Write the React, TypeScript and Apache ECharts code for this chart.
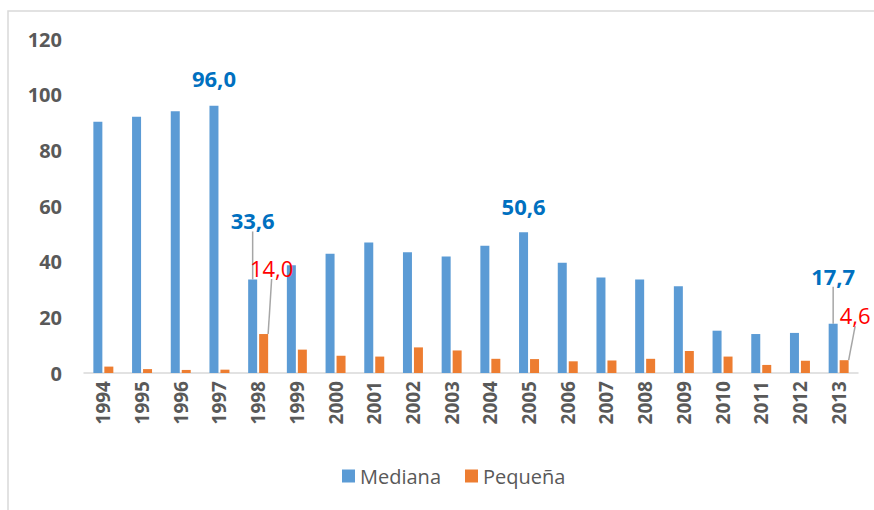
import React, { useEffect, useRef } from "react";
import * as echarts from "echarts";

const years = ["1994","1995","1996","1997","1998","1999","2000","2001","2002","2003","2004","2005","2006","2007","2008","2009","2010","2011","2012","2013"];
const mediana = [90.3, 92.1, 94.0, 96.0, 33.6, 38.7, 42.8, 46.9, 43.4, 41.9, 45.7, 50.6, 39.6, 34.3, 33.6, 31.2, 15.2, 14.0, 14.4, 17.7];
const pequena = [2.3, 1.4, 1.1, 1.2, 14.0, 8.4, 6.2, 5.9, 9.2, 8.1, 5.1, 5.0, 4.2, 4.5, 5.1, 7.9, 5.9, 2.9, 4.4, 4.6];
const yTicks = [0, 20, 40, 60, 80, 100, 120];

const labeledMediana = [3, 4, 11, 19];
const labeledPequena = [4, 19];

// label offsets (dx, dy) for moved labels with leader lines
const medianaOffsets: Record<number, [number, number]> = { 3: [0, -12], 4: [0, -43], 11: [0, -10], 19: [0, -32] };
const pequenaOffsets: Record<number, [number, number]> = { 4: [8, -50], 19: [11, -29] };

const FONT = "'Open Sans', 'Liberation Sans', sans-serif";

const fmt = (v: number) => v.toFixed(1).replace(".", ",");

export default function App() {
  const ref = useRef<HTMLDivElement>(null);
  useEffect(() => {
    if (!ref.current) return;
    const chart = echarts.init(ref.current, undefined, { renderer: "svg" });
    const blueLabel = {
      show: true,
      position: "top",
      distance: 5,
      color: "#0070C0",
      fontWeight: "bold",
      fontSize: 22,
      fontFamily: FONT,
      formatter: (p: any) => fmt(p.value),
    };
    const redLabel = {
      show: true,
      position: "top",
      distance: 5,
      color: "#FF0000",
      fontWeight: "normal",
      fontSize: 22,
      fontFamily: FONT,
      formatter: (p: any) => fmt(p.value),
    };
    const lineStyle = { color: "#a6a6a6", width: 1.5 };
    const withLead = (i: number, offs: Record<number, [number, number]>) => Math.abs(offs[i][1]) > 20;
    chart.setOption({
      animation: false,
      textStyle: { fontFamily: FONT },
      graphic: [
        {
          type: "rect",
          shape: { x: 8, y: 11, width: 900, height: 600 },
          style: { fill: "none", stroke: "#d9d9d9", lineWidth: 1.5 },
          silent: true,
        },
      ],
      grid: { left: 84, right: 16, top: 39, bottom: 137, containLabel: false },
      legend: {
        left: 337,
        top: 461,
        itemWidth: 13,
        itemHeight: 13,
        itemGap: 24,
        icon: "rect",
        textStyle: { color: "#595959", fontSize: 20, fontFamily: FONT, padding: [0, 0, 0, 0] },
        data: ["Mediana", "Pequeña"],
      },
      xAxis: {
        type: "category",
        data: years,
        axisLine: { lineStyle: { color: "#d9d9d9", width: 1.5 } },
        axisTick: { show: false },
        axisLabel: {
          rotate: 90,
          color: "#595959",
          fontWeight: "bold",
          fontSize: 19,
          fontFamily: FONT,
          margin: 8,
          interval: 0,
        },
      },
      yAxis: {
        type: "value",
        min: 0,
        max: 120,
        interval: 20,
        axisLine: { show: false },
        axisTick: { show: false },
        splitLine: { show: false },
        axisLabel: {
          color: "#595959",
          fontWeight: "bold",
          fontSize: 20,
          fontFamily: FONT,
          margin: 22,
          customValues: yTicks,
        },
      },
      series: [
        {
          name: "Mediana",
          type: "bar",
          barWidth: 9,
          barGap: "22%",
          itemStyle: { color: "#5B9BD5" },
          data: mediana.map((v, i) =>
            labeledMediana.includes(i)
              ? {
                  value: v,
                  label: blueLabel,
                  labelLine: { show: withLead(i, medianaOffsets), lineStyle },
                }
              : v
          ),
          labelLayout: (p: any) => {
            const o = medianaOffsets[p.dataIndex];
            return o ? { dx: o[0], dy: o[1] } : {};
          },
          labelLine: { show: false, lineStyle },
        },
        {
          name: "Pequeña",
          type: "bar",
          barWidth: 9,
          barGap: "22%",
          itemStyle: { color: "#ED7D31" },
          data: pequena.map((v, i) =>
            labeledPequena.includes(i)
              ? {
                  value: v,
                  label: redLabel,
                  labelLine: { show: true, lineStyle },
                }
              : v
          ),
          labelLayout: (p: any) => {
            const o = pequenaOffsets[p.dataIndex];
            return o ? { dx: o[0], dy: o[1] } : {};
          },
          labelLine: { show: false, lineStyle },
        },
      ],
    });
    return () => chart.dispose();
  }, []);
  return (
    <div
      ref={ref}
      style={{ position: "absolute", left: 0, top: 0, width: 874, height: 510, background: "#fff" }}
    />
  );
}
